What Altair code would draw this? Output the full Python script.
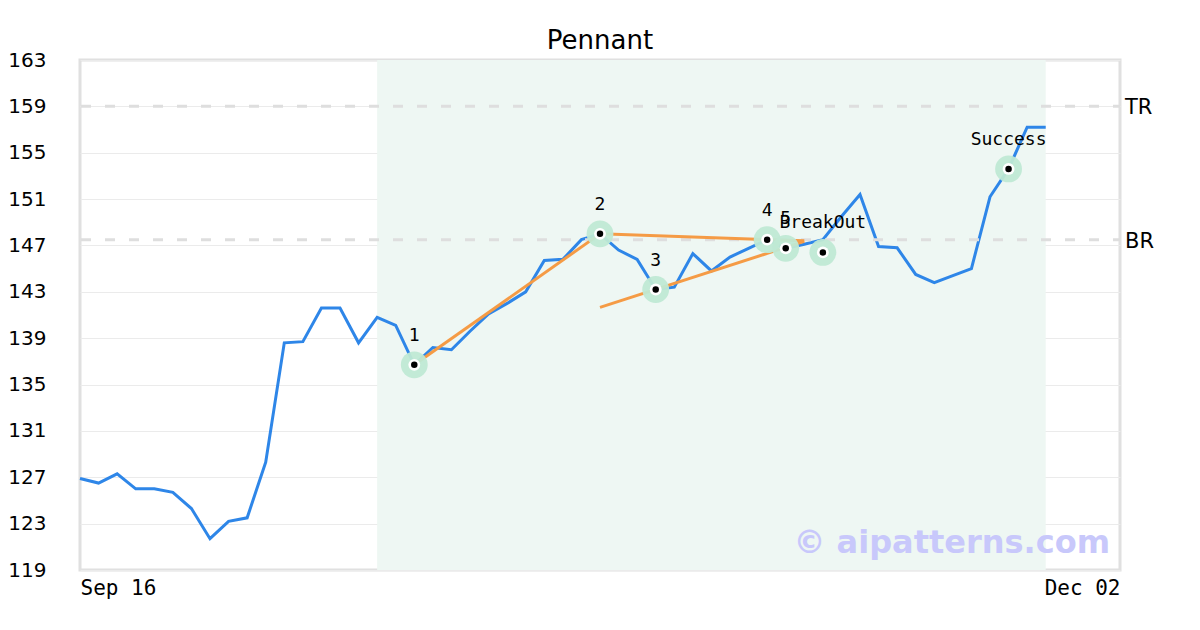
import altair as alt
import pandas as pd

chart_title = "Pennant"
close = [126.9, 126.5, 127.3, 126.0, 126.0, 125.7, 124.3, 121.7, 123.2, 123.5,
         128.3, 138.6, 138.7, 141.6, 141.6, 138.6, 140.8, 140.1, 136.7, 138.2,
         138.0, 139.6, 141.1, 142.0, 143.0, 145.7, 145.8, 147.5, 148.0, 146.6,
         145.8, 143.2, 143.4, 146.3, 144.8, 146.0, 146.75, 147.5, 146.75, 147.1,
         147.5, 149.5, 151.4, 146.9, 146.8, 144.5, 143.8, 144.4, 145.0, 151.2,
         153.6, 157.2, 157.2]
day_index = list(range(len(close)))
x_domain = [0, 56]
x_tick_values = [0, 56]
x_tick_labels = ["Sep 16", "Dec 02"]
y_ticks = list(range(119, 164, 4))
band_start = [16]
band_end = [52]
level_values = [159.0, 147.5]
level_names = ["TR", "BR"]
pivot_index = [18, 28, 31, 37, 38, 40, 50]
pivot_values = [136.7, 148.0, 143.2, 147.5, 146.75, 146.4, 153.6]
pivot_labels = ["1", "2", "3", "4", "5", "BreakOut", "Success"]
trend_id = ["a", "a", "b", "b", "c", "c"]
trend_x = [18, 28, 28, 39, 28, 39]
trend_y = [136.7, 148.0, 148.0, 147.4, 141.66, 147.35]
watermark = ["© aipatterns.com"]

price = pd.DataFrame({"i": day_index, "close": close})
band = pd.DataFrame({"start": band_start, "end": band_end})
levels = pd.DataFrame({"level": level_values, "name": level_names})
pivots = pd.DataFrame({"i": pivot_index, "v": pivot_values, "label": pivot_labels})
trends = pd.DataFrame({"id": trend_id, "i": trend_x, "v": trend_y})
wm = pd.DataFrame({"t": watermark})

label_expr = "''"
for val, lab in reversed(list(zip(x_tick_values, x_tick_labels))):
    label_expr = f"datum.value == {val} ? '{lab}' : ({label_expr})"

xs = alt.Scale(domain=x_domain, nice=False, zero=False)
ys = alt.Scale(domain=[119, 163], nice=False, zero=False)

x_axis = alt.Axis(values=x_tick_values, labelExpr=label_expr, grid=False,
                  domain=False, ticks=False, labelFlush=True,
                  labelFont="DejaVu Sans Mono", labelFontSize=21,
                  labelColor="black", labelPadding=7)
y_axis = alt.Axis(values=y_ticks, grid=True, gridColor="#ebebeb",
                  gridWidth=1, domain=False, ticks=False,
                  labelFont="DejaVu Sans", labelFontSize=20,
                  labelColor="black", labelPadding=34)

band_layer = alt.Chart(band).mark_rect(color="#eef7f3").encode(
    x=alt.X("start:Q", scale=xs, axis=x_axis, title=None),
    x2="end:Q",
    y=alt.value(0),
    y2=alt.value(510),
)

line_layer = alt.Chart(price).mark_line(color="#2e86e8", strokeWidth=3).encode(
    x=alt.X("i:Q", scale=xs, title=None, axis=x_axis),
    y=alt.Y("close:Q", scale=ys, title=None, axis=y_axis),
)

level_rules = alt.Chart(levels).mark_rule(
    color="#dedede", strokeWidth=3, strokeDash=[10, 14], strokeCap="butt"
).encode(y=alt.Y("level:Q", scale=ys), x=alt.value(1), x2=alt.value(1040))

level_text = alt.Chart(levels).mark_text(
    align="left", baseline="middle", font="DejaVu Sans", fontSize=21, color="black",
    dy=2
).encode(y=alt.Y("level:Q", scale=ys), x=alt.value(1045), text="name:N")

wm_layer = alt.Chart(wm).mark_text(
    align="right", baseline="middle", font="DejaVu Sans", fontWeight="bold",
    fontSize=32, color="#c8c8fb"
).encode(x=alt.value(1030), y=alt.value(483), text="t:N")

trend_layer = alt.Chart(trends).mark_line(color="#f59b45", strokeWidth=3).encode(
    x=alt.X("i:Q", scale=xs), y=alt.Y("v:Q", scale=ys), detail="id:N"
)

halo = alt.Chart(pivots).mark_circle(color="#bfe9d4", opacity=0.95, size=720).encode(
    x=alt.X("i:Q", scale=xs), y=alt.Y("v:Q", scale=ys)
)
ring = alt.Chart(pivots).mark_circle(color="white", opacity=1, size=140).encode(
    x=alt.X("i:Q", scale=xs), y=alt.Y("v:Q", scale=ys)
)
dot = alt.Chart(pivots).mark_circle(color="black", opacity=1, size=42).encode(
    x=alt.X("i:Q", scale=xs), y=alt.Y("v:Q", scale=ys)
)
pivot_text = alt.Chart(pivots).mark_text(
    font="DejaVu Sans Mono", fontSize=18, color="black", dy=-29, baseline="middle"
).encode(x=alt.X("i:Q", scale=xs), y=alt.Y("v:Q", scale=ys), text="label:N")

chart = alt.layer(
    band_layer, line_layer, level_rules, level_text, wm_layer, trend_layer,
    halo, ring, dot, pivot_text
).properties(
    width=1040, height=510,
    title=alt.TitleParams(chart_title, fontSize=26, font="DejaVu Sans",
                          fontWeight="normal", color="black", offset=-4,
                          anchor="middle"),
    autosize=alt.AutoSizeParams(type="none"),
    padding={"left": 72, "top": 52, "right": 64, "bottom": 52},
    background="white",
).configure_view(stroke="#e0e0e0", strokeWidth=3)

chart.save("out.html", embed_options={"renderer": "svg", "actions": False})
